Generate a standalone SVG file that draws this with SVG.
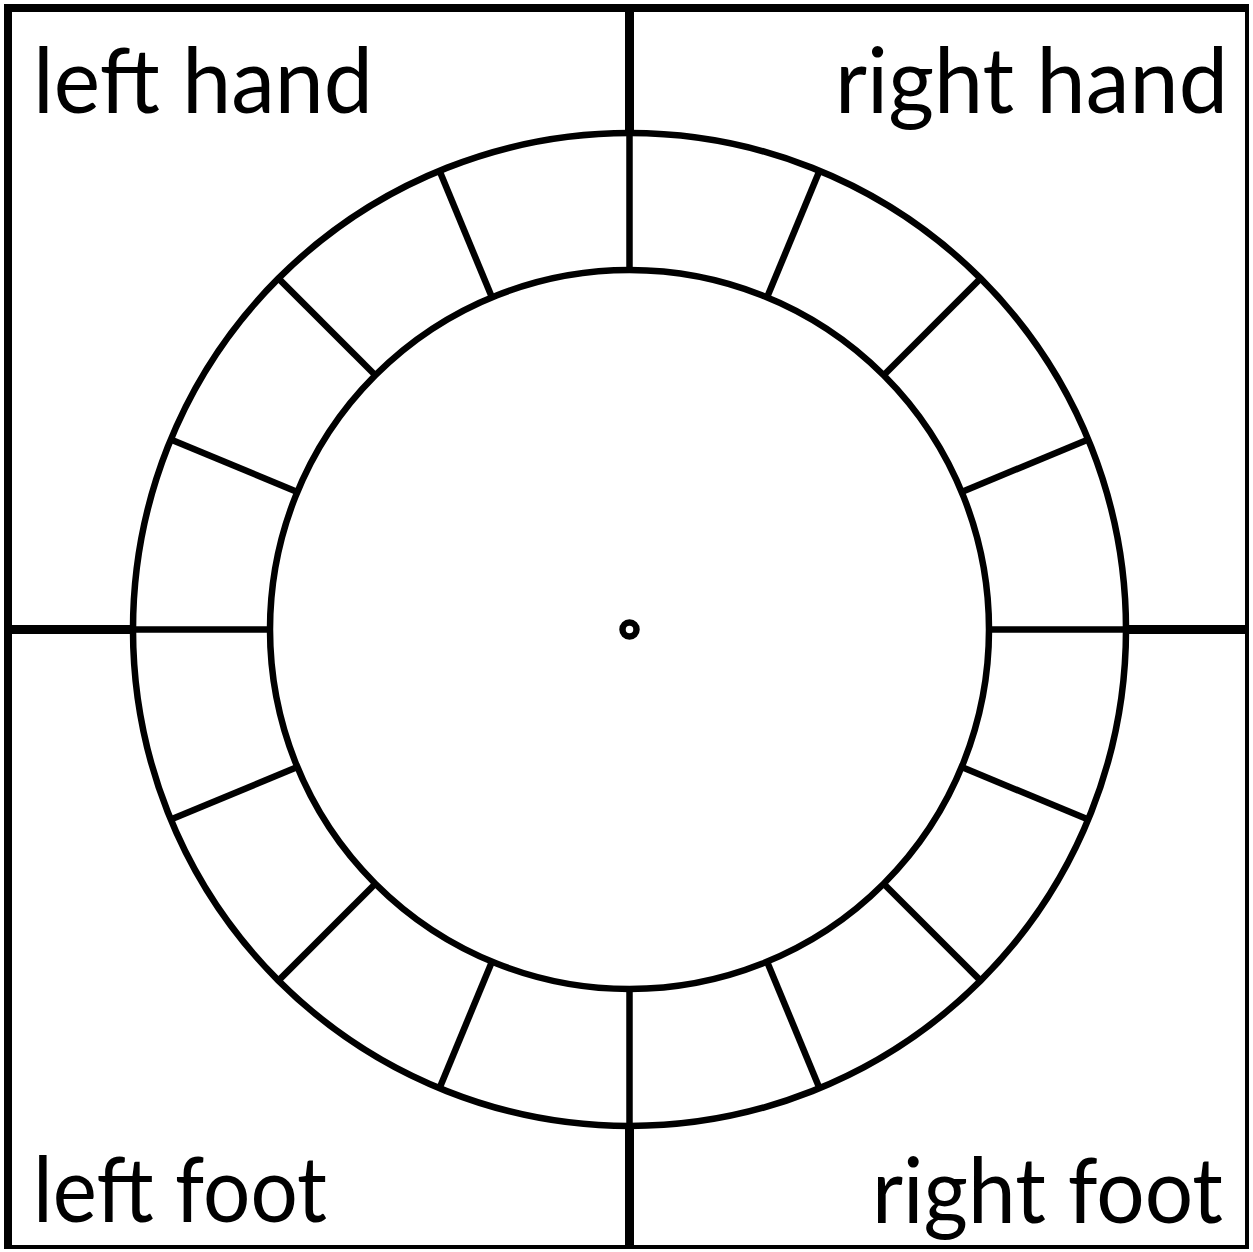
<svg xmlns="http://www.w3.org/2000/svg" width="1253" height="1252" viewBox="0 0 1253 1252">
<style>
.ln{stroke:#000;stroke-width:6.5;fill:none}
.thick{stroke:#000;stroke-width:9;fill:none}
.lbl{font-family:"Lato","Liberation Sans",sans-serif;font-size:92px;fill:#000}
</style>
<rect width="1253" height="1252" fill="#fff"/>
<g id="frame">
<path d="M4,4 H1249 V1249 H4 Z M12,12 V1245 H1245 V12 Z" fill="#000" fill-rule="evenodd"/>
</g>
<g id="dividers">
<line class="thick" x1="629.5" y1="8" x2="629.5" y2="133"/>
<line class="thick" x1="629.5" y1="1126" x2="629.5" y2="1247"/>
<line class="thick" x1="8" y1="629.5" x2="133" y2="629.5"/>
<line class="thick" x1="1126" y1="629.5" x2="1247" y2="629.5"/>
</g>
<g id="wheel">
<circle class="ln" cx="629.5" cy="629.5" r="496.5"/>
<circle class="ln" cx="629.5" cy="629.5" r="359.5"/>
<circle class="ln" cx="629.5" cy="629.5" r="7" stroke-width="6"/>
</g>
<g id="connectors">
<g transform="translate(629.5,629.5)">
<line class="ln" x1="0" y1="-359.5" x2="0" y2="-496.5" transform="rotate(0)"/>
<line class="ln" x1="0" y1="-359.5" x2="0" y2="-496.5" transform="rotate(22.5)"/>
<line class="ln" x1="0" y1="-359.5" x2="0" y2="-496.5" transform="rotate(45)"/>
<line class="ln" x1="0" y1="-359.5" x2="0" y2="-496.5" transform="rotate(67.5)"/>
<line class="ln" x1="0" y1="-359.5" x2="0" y2="-496.5" transform="rotate(90)"/>
<line class="ln" x1="0" y1="-359.5" x2="0" y2="-496.5" transform="rotate(112.5)"/>
<line class="ln" x1="0" y1="-359.5" x2="0" y2="-496.5" transform="rotate(135)"/>
<line class="ln" x1="0" y1="-359.5" x2="0" y2="-496.5" transform="rotate(157.5)"/>
<line class="ln" x1="0" y1="-359.5" x2="0" y2="-496.5" transform="rotate(180)"/>
<line class="ln" x1="0" y1="-359.5" x2="0" y2="-496.5" transform="rotate(202.5)"/>
<line class="ln" x1="0" y1="-359.5" x2="0" y2="-496.5" transform="rotate(225)"/>
<line class="ln" x1="0" y1="-359.5" x2="0" y2="-496.5" transform="rotate(247.5)"/>
<line class="ln" x1="0" y1="-359.5" x2="0" y2="-496.5" transform="rotate(270)"/>
<line class="ln" x1="0" y1="-359.5" x2="0" y2="-496.5" transform="rotate(292.5)"/>
<line class="ln" x1="0" y1="-359.5" x2="0" y2="-496.5" transform="rotate(315)"/>
<line class="ln" x1="0" y1="-359.5" x2="0" y2="-496.5" transform="rotate(337.5)"/>
</g>
</g>
<g id="labels">
<text class="lbl" x="33" y="113" textLength="340" lengthAdjust="spacingAndGlyphs">left hand</text>
<text class="lbl" x="835" y="113" textLength="393" lengthAdjust="spacingAndGlyphs">right hand</text>
<text class="lbl" x="33" y="1222" textLength="294" lengthAdjust="spacingAndGlyphs">left foot</text>
<text class="lbl" x="872" y="1223" textLength="351" lengthAdjust="spacingAndGlyphs">right foot</text>
</g>
</svg>
